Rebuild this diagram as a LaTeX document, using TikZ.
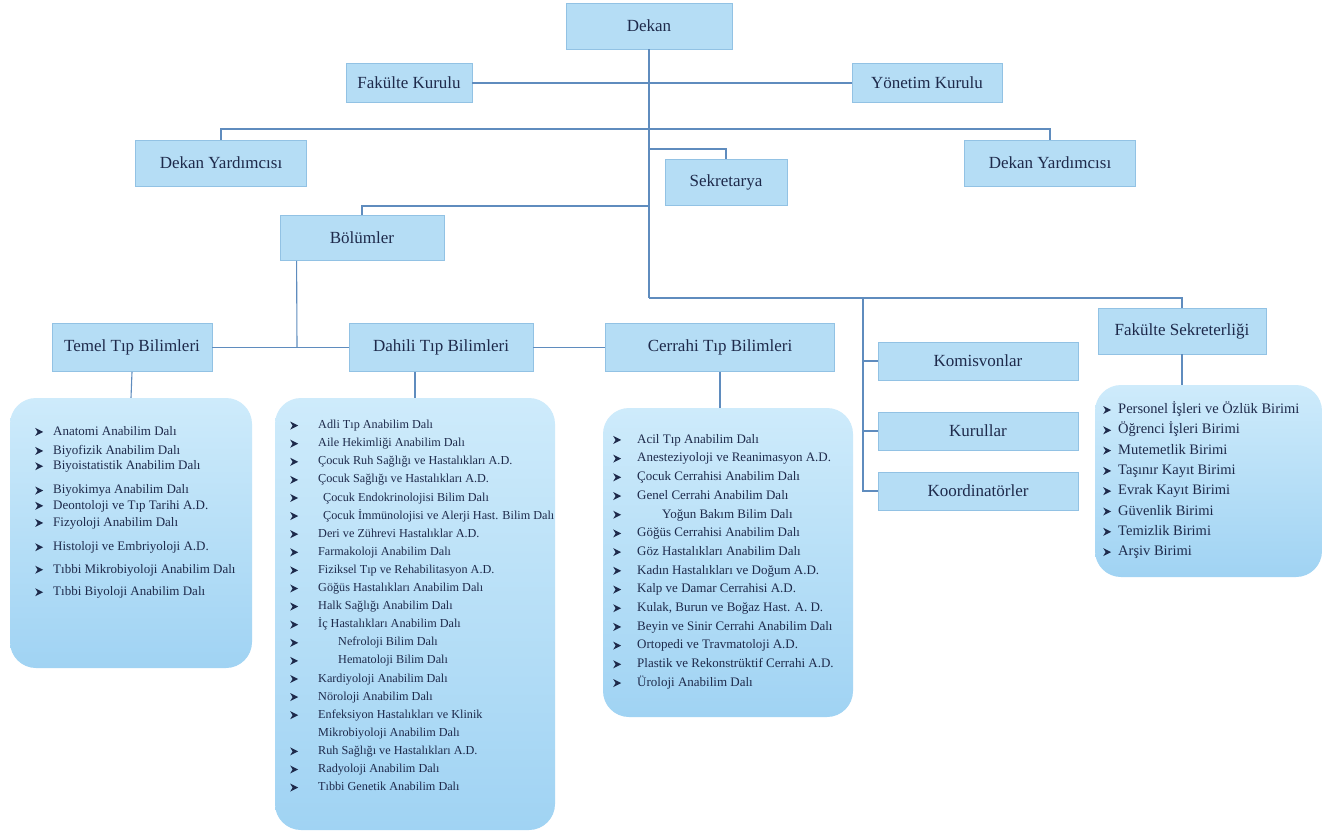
\documentclass[tikz,border=0pt]{standalone}
\usepackage{fontspec}
\setmainfont{Liberation Serif}

\definecolor{boxfill}{RGB}{181,221,245}
\definecolor{boxline}{RGB}{146,194,228}
\definecolor{listtop}{RGB}{206,235,251}
\definecolor{listbot}{RGB}{160,211,243}
\definecolor{wirecol}{RGB}{95,140,190}
\definecolor{txt}{RGB}{30,42,75}

\newlength\bltw
\newcommand{\arr}{\tikz[baseline=-0.55ex]\fill[txt] (0pt,4pt) -- (8pt,0pt) -- (0pt,-4pt) -- (2.4pt,0pt) -- cycle;}
\newcommand{\itm}[2][0pt]{\makebox[\bltw][l]{\arr}\hspace*{#1}#2}
\newcommand{\cont}[1]{\hspace*{\bltw}#1}

\tikzset{
  box/.style={shape=rectangle, draw=boxline, fill=boxfill, line width=0.8pt, text=txt, font=\fontsize{17}{20}\selectfont, inner sep=0pt},
  listbox/.style={shape=rectangle, rounded corners=26pt, draw=none, top color=listtop, bottom color=listbot},
  listtxt/.style={anchor=north west, align=left, text=txt, inner sep=0pt},
  wire/.style={draw=wirecol, line width=1.1pt}
}

\begin{document}
\begin{tikzpicture}[x=1pt,y=-1pt]
\fill[white] (0,0) rectangle (1330,834);
\useasboundingbox (0,0) rectangle (1330,834);

%top of the chart
\node [box, minimum width=166pt, minimum height=46pt] at (649,26) (dekan) {Dekan};
\node [box, minimum width=126pt, minimum height=39pt] at (409,83) (fk) {Fakülte Kurulu};
\node [box, minimum width=150pt, minimum height=39pt] at (927,83) (yk) {Yönetim Kurulu};
\node [box, minimum width=171pt, minimum height=46pt] at (221,163) (dy1) {Dekan Yardımcısı};
\node [box, minimum width=171pt, minimum height=46pt] at (1050,163) (dy2) {Dekan Yardımcısı};
\node [box, minimum width=122pt, minimum height=46pt] at (726,182) (sek) {Sekretarya};
\node [box, minimum width=164pt, minimum height=45pt] at (362,238) (bol) {Bölümler};

%departments row
\node [box, minimum width=160pt, minimum height=48pt] at (132,347.5) (temel) {Temel Tıp Bilimleri};
\node [box, minimum width=184pt, minimum height=48pt] at (441,347.5) (dahili) {Dahili Tıp Bilimleri};
\node [box, minimum width=229pt, minimum height=48pt] at (720,347.5) (cerrahi) {Cerrahi Tıp Bilimleri};
\node [box, minimum width=168pt, minimum height=46pt] at (1182,331) (fs) {Fakülte Sekreterliği};

%boards on the right
\node [box, minimum width=200pt, minimum height=38pt] at (978,361) (kom) {Komisvonlar};
\node [box, minimum width=200pt, minimum height=38pt] at (978,431) (kur) {Kurullar};
\node [box, minimum width=200pt, minimum height=38pt] at (978,491) (koord) {Koordinatörler};

%junction points on the spine
\coordinate (barj) at (649,129);
\coordinate (sekj) at (649,149);
\coordinate (bolj) at (649,206);
\coordinate (spinej) at (649,298);
\coordinate (brj) at (863,298);
\coordinate (rowj) at (297,347.5);

%lines
\draw [wire] (dekan.south) -- (spinej);
\draw [wire] (fk.east) -- (yk.west);
\draw [wire] (dy1.north) |- (barj) -| (dy2.north);
\draw [wire] (sekj) -| (sek.north);
\draw [wire] (bolj) -| (bol.north);
\draw [wire] ([xshift=17pt]bol.south west) -- (rowj);
\draw [wire] (temel.east) -- (dahili.west);
\draw [wire] (dahili.east) -- (cerrahi.west);
\draw [wire] (spinej) -| (fs.north);
\draw [wire] (brj) |- (koord.west);
\draw [wire] (brj |- kom.west) -- (kom.west);
\draw [wire] (brj |- kur.west) -- (kur.west);

%list boxes
\node [listbox, minimum width=242pt, minimum height=270pt] at (131,533) (temlist) {};
\node [listbox, minimum width=280pt, minimum height=432pt] at (415,614) (dahlist) {};
\node [listbox, minimum width=250pt, minimum height=309pt] at (728,562.5) (cerlist) {};
\node [listbox, minimum width=227pt, minimum height=192pt] at (1208.5,481) (fslist) {};

\draw [wire] (temel.south) -- (temlist.north);
\draw [wire] (dahlist.north |- dahili.south) -- (dahlist.north);
\draw [wire] (cerrahi.south) -- (cerrahi.south |- cerlist.north);
\draw [wire] (fs.south) -- (fs.south |- fslist.north);

%list texts
\setlength{\bltw}{18pt}
\node [listtxt, font=\fontsize{13}{15.3}\selectfont] at (35,426) (temtxt) {%
\itm{Anatomi Anabilim Dalı}\\[3.7pt]
\itm{Biyofizik Anabilim Dalı}\\
\itm{Biyoistatistik Anabilim Dalı}\\[9pt]
\itm{Biyokimya Anabilim Dalı}\\
\itm{Deontoloji ve Tıp Tarihi A.D.}\\[1.8pt]
\itm{Fizyoloji Anabilim Dalı}\\[9pt]
\itm{Histoloji ve Embriyoloji A.D.}\\[7.2pt]
\itm{Tıbbi Mikrobiyoloji Anabilim Dalı}\\[7.2pt]
\itm{Tıbbi Biyoloji Anabilim Dalı}};

\setlength{\bltw}{28pt}
\node [listtxt, font=\fontsize{12.2}{18.1}\selectfont] at (290,420) (dahtxt) {%
\itm{Adli Tıp Anabilim Dalı}\\
\itm{Aile Hekimliği Anabilim Dalı}\\
\itm{Çocuk Ruh Sağlığı ve Hastalıkları A.D.}\\
\itm{Çocuk Sağlığı ve Hastalıkları A.D.}\\
\itm[5pt]{Çocuk Endokrinolojisi Bilim Dalı}\\
\itm[5pt]{Çocuk İmmünolojisi ve Alerji Hast. Bilim Dalı}\\
\itm{Deri ve Zührevi Hastalıklar A.D.}\\
\itm{Farmakoloji Anabilim Dalı}\\
\itm{Fiziksel Tıp ve Rehabilitasyon A.D.}\\
\itm{Göğüs Hastalıkları Anabilim Dalı}\\
\itm{Halk Sağlığı Anabilim Dalı}\\
\itm{İç Hastalıkları Anabilim Dalı}\\
\itm[20pt]{Nefroloji Bilim Dalı}\\
\itm[20pt]{Hematoloji Bilim Dalı}\\
\itm{Kardiyoloji Anabilim Dalı}\\
\itm{Nöroloji Anabilim Dalı}\\
\itm{Enfeksiyon Hastalıkları ve Klinik}\\
\cont{Mikrobiyoloji Anabilim Dalı}\\
\itm{Ruh Sağlığı ve Hastalıkları A.D.}\\
\itm{Radyoloji Anabilim Dalı}\\
\itm{Tıbbi Genetik Anabilim Dalı}};

\setlength{\bltw}{24pt}
\node [listtxt, font=\fontsize{13}{18.7}\selectfont] at (613,434) (certxt) {%
\itm{Acil Tıp Anabilim Dalı}\\
\itm{Anesteziyoloji ve Reanimasyon A.D.}\\
\itm{Çocuk Cerrahisi Anabilim Dalı}\\
\itm{Genel Cerrahi Anabilim Dalı}\\
\itm[25pt]{Yoğun Bakım Bilim Dalı}\\
\itm{Göğüs Cerrahisi Anabilim Dalı}\\
\itm{Göz Hastalıkları Anabilim Dalı}\\
\itm{Kadın Hastalıkları ve Doğum A.D.}\\
\itm{Kalp ve Damar Cerrahisi A.D.}\\
\itm{Kulak, Burun ve Boğaz Hast. A. D.}\\
\itm{Beyin ve Sinir Cerrahi Anabilim Dalı}\\
\itm{Ortopedi ve Travmatoloji A.D.}\\
\itm{Plastik ve Rekonstrüktif Cerrahi A.D.}\\
\itm{Üroloji Anabilim Dalı}};

\setlength{\bltw}{15pt}
\node [listtxt, font=\fontsize{14.5}{20.3}\selectfont] at (1103,401.5) (fstxt) {%
\itm{Personel İşleri ve Özlük Birimi}\\
\itm{Öğrenci İşleri Birimi}\\
\itm{Mutemetlik Birimi}\\
\itm{Taşınır Kayıt Birimi}\\
\itm{Evrak Kayıt Birimi}\\
\itm{Güvenlik Birimi}\\
\itm{Temizlik Birimi}\\
\itm{Arşiv Birimi}};
\end{tikzpicture}
\end{document}
